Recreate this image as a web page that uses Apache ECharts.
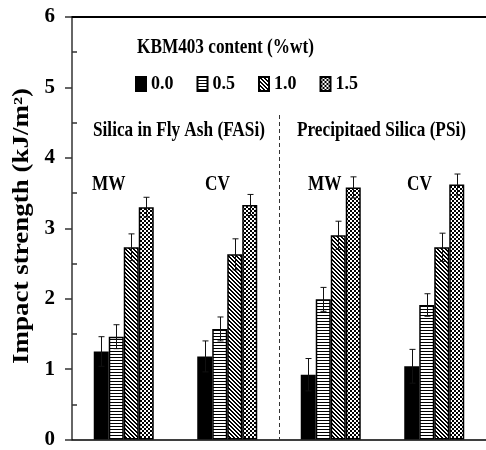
<!DOCTYPE html>
<html><head><meta charset="utf-8">
<script src="https://cdn.jsdelivr.net/npm/echarts@6/dist/echarts.min.js"></script>
<style>html,body{margin:0;padding:0;background:#fff}#c{width:486px;height:450px}</style>
</head><body><div id="c"></div>
<script>
// ---- data ----
const categories = ['FASi-MW', 'FASi-CV', 'PSi-MW', 'PSi-CV'];
const groupLabels = ['MW', 'CV', 'MW', 'CV'];
const seriesNames = ['0.0', '0.5', '1.0', '1.5'];
const values00 = [1.25, 1.18, 0.92, 1.04];
const values05 = [1.46, 1.57, 1.99, 1.91];
const values10 = [2.73, 2.63, 2.90, 2.73];
const values15 = [3.30, 3.33, 3.58, 3.62];
const err00 = [0.21, 0.22, 0.23, 0.24];
const err05 = [0.17, 0.17, 0.17, 0.16];
const err10 = [0.19, 0.22, 0.20, 0.20];
const err15 = [0.14, 0.15, 0.15, 0.15];
const yMin = 0, yMax = 6, yInterval = 1;
const legendTitle = 'KBM403 content (%wt)';
const panelTitles = ['Silica in Fly Ash (FASi)', 'Precipitaed Silica (PSi)'];
const yTitle = 'Impact strength (kJ/m\u00B2)';

// ---- patterns ----
function makePattern(w, h, fn) {
  const c = document.createElement('canvas');
  c.width = w; c.height = h;
  const ctx = c.getContext('2d');
  ctx.fillStyle = '#fff'; ctx.fillRect(0, 0, w, h);
  ctx.fillStyle = '#000';
  for (let y = 0; y < h; y++) for (let x = 0; x < w; x++) if (fn(x, y)) ctx.fillRect(x, y, 1, 1);
  return { image: c, repeat: 'repeat' };
}
const patHoriz = makePattern(4, 3, (x, y) => y === 0);
const patDiag = makePattern(4, 4, (x, y) => ((x - y + 8) % 4) < 2);
const patCheck = makePattern(4, 4, (x, y) => ((Math.floor(x / 2) + Math.floor(y / 2)) % 2) === 0);

const fills = ['#000', patHoriz, patDiag, patCheck];
const allValues = [values00, values05, values10, values15];
const allErrs = [err00, err05, err10, err15];
const BAR_W = 15;
const FONT = 'Liberation Serif';

const barSeries = seriesNames.map((name, k) => ({
  name: name, type: 'bar', data: allValues[k], barWidth: BAR_W, barGap: '0%',
  itemStyle: { color: fills[k], borderColor: '#000', borderWidth: 1.5 },
  emphasis: { disabled: true }, z: 2
}));

const errData = [];
allValues.forEach((vals, k) => vals.forEach((v, i) => errData.push([i, v, allErrs[k][i], k])));

const errSeries = {
  type: 'custom', data: errData, encode: { x: 0, y: 1 }, z: 5, silent: true,
  renderItem: function (params, api) {
    const cat = api.value(0), val = api.value(1), e = api.value(2), k = api.value(3);
    const c = api.coord([cat, val]);
    const x = Math.round(c[0] + (k - 1.5) * BAR_W) + 0.5;
    const yT = api.coord([cat, val + e])[1];
    const yB = api.coord([cat, val - e])[1];
    const cap = 3, st = { stroke: '#111', lineWidth: 1 };
    return { type: 'group', children: [
      { type: 'line', shape: { x1: x, y1: yT, x2: x, y2: yB }, style: st },
      { type: 'line', shape: { x1: x - cap, y1: yT, x2: x + cap, y2: yT }, style: st },
      { type: 'line', shape: { x1: x - cap, y1: yB, x2: x + cap, y2: yB }, style: st }
    ]};
  }
};

const chart = echarts.init(document.getElementById('c'), null, { renderer: 'canvas' });
chart.setOption({
  animation: false,
  backgroundColor: '#fff',
  grid: { left: 72, top: 17, width: 416, bottom: 7, containLabel: false },
  legend: {
    data: seriesNames, left: 135, top: 75, padding: 0, itemWidth: 10, itemHeight: 14, itemGap: 23,
    icon: 'rect', selectedMode: false,
    textStyle: { fontFamily: FONT, fontWeight: 'bold', fontSize: 18, color: '#000' }
  },
  xAxis: [
    { type: 'category', data: categories, position: 'bottom',
      axisLine: { onZero: false, lineStyle: { color: '#000', width: 1.5 } },
      axisTick: { show: false }, axisLabel: { show: false }, splitLine: { show: false } },
    { type: 'category', data: categories, position: 'top',
      axisLine: { onZero: false, lineStyle: { color: '#000', width: 2 } },
      axisTick: { show: false }, axisLabel: { show: false }, splitLine: { show: false } }
  ],
  yAxis: [
    { type: 'value', min: yMin, max: yMax, interval: yInterval, position: 'left',
      axisLine: { show: true, lineStyle: { color: '#333', width: 1.5 } },
      axisTick: { show: true, length: 7, lineStyle: { color: '#333', width: 1.5 } },
      axisLabel: { fontFamily: FONT, fontWeight: 'bold', fontSize: 21, color: '#000', margin: 17 },
      splitLine: { show: false } },
    { type: 'value', min: yMin, max: yMax, interval: yInterval, position: 'left', offset: 0,
      axisLine: { show: false }, axisTick: { show: false, inside: true }, axisLabel: { show: false },
      minorTick: { show: true, splitNumber: 2, length: 5, lineStyle: { color: '#333', width: 1.5 } },
      splitLine: { show: false } }
  ],
  series: barSeries.concat([errSeries])
});

// ---- annotations ----
const xDiv = (chart.convertToPixel({ xAxisIndex: 0 }, 1) + chart.convertToPixel({ xAxisIndex: 0 }, 2)) / 2;
const y0 = chart.convertToPixel({ yAxisIndex: 0 }, 0);
const SX = 0.82;
function txt(text, x, y, size) {
  return { type: 'text', x: x, y: y, scaleX: SX, z: 10,
    style: { text: text, fontFamily: FONT, fontWeight: 'bold', fontSize: size || 21, fill: '#000',
      align: 'left', verticalAlign: 'middle' } };
}
const labelX = [92, 205, 308, 407];
chart.setOption({
  graphic: [
    txt(legendTitle, 137, 48),
    txt(panelTitles[0], 93, 131),
    txt(panelTitles[1], 297, 131),
    ...groupLabels.map((t, i) => txt(t, labelX[i], 185)),
    { type: 'line', z: 1, shape: { x1: Math.round(xDiv) + 0.5, y1: 115, x2: Math.round(xDiv) + 0.5, y2: y0 },
      style: { stroke: '#333', lineWidth: 1, lineDash: [4, 3] } },
    { type: 'text', x: 22, y: 226, rotation: Math.PI / 2, scaleY: SX, z: 10,
      style: { text: yTitle, fontFamily: FONT, fontWeight: 'bold', fontSize: 27, fill: '#000',
        align: 'center', verticalAlign: 'middle' } }
  ]
});
</script>
</body></html>
